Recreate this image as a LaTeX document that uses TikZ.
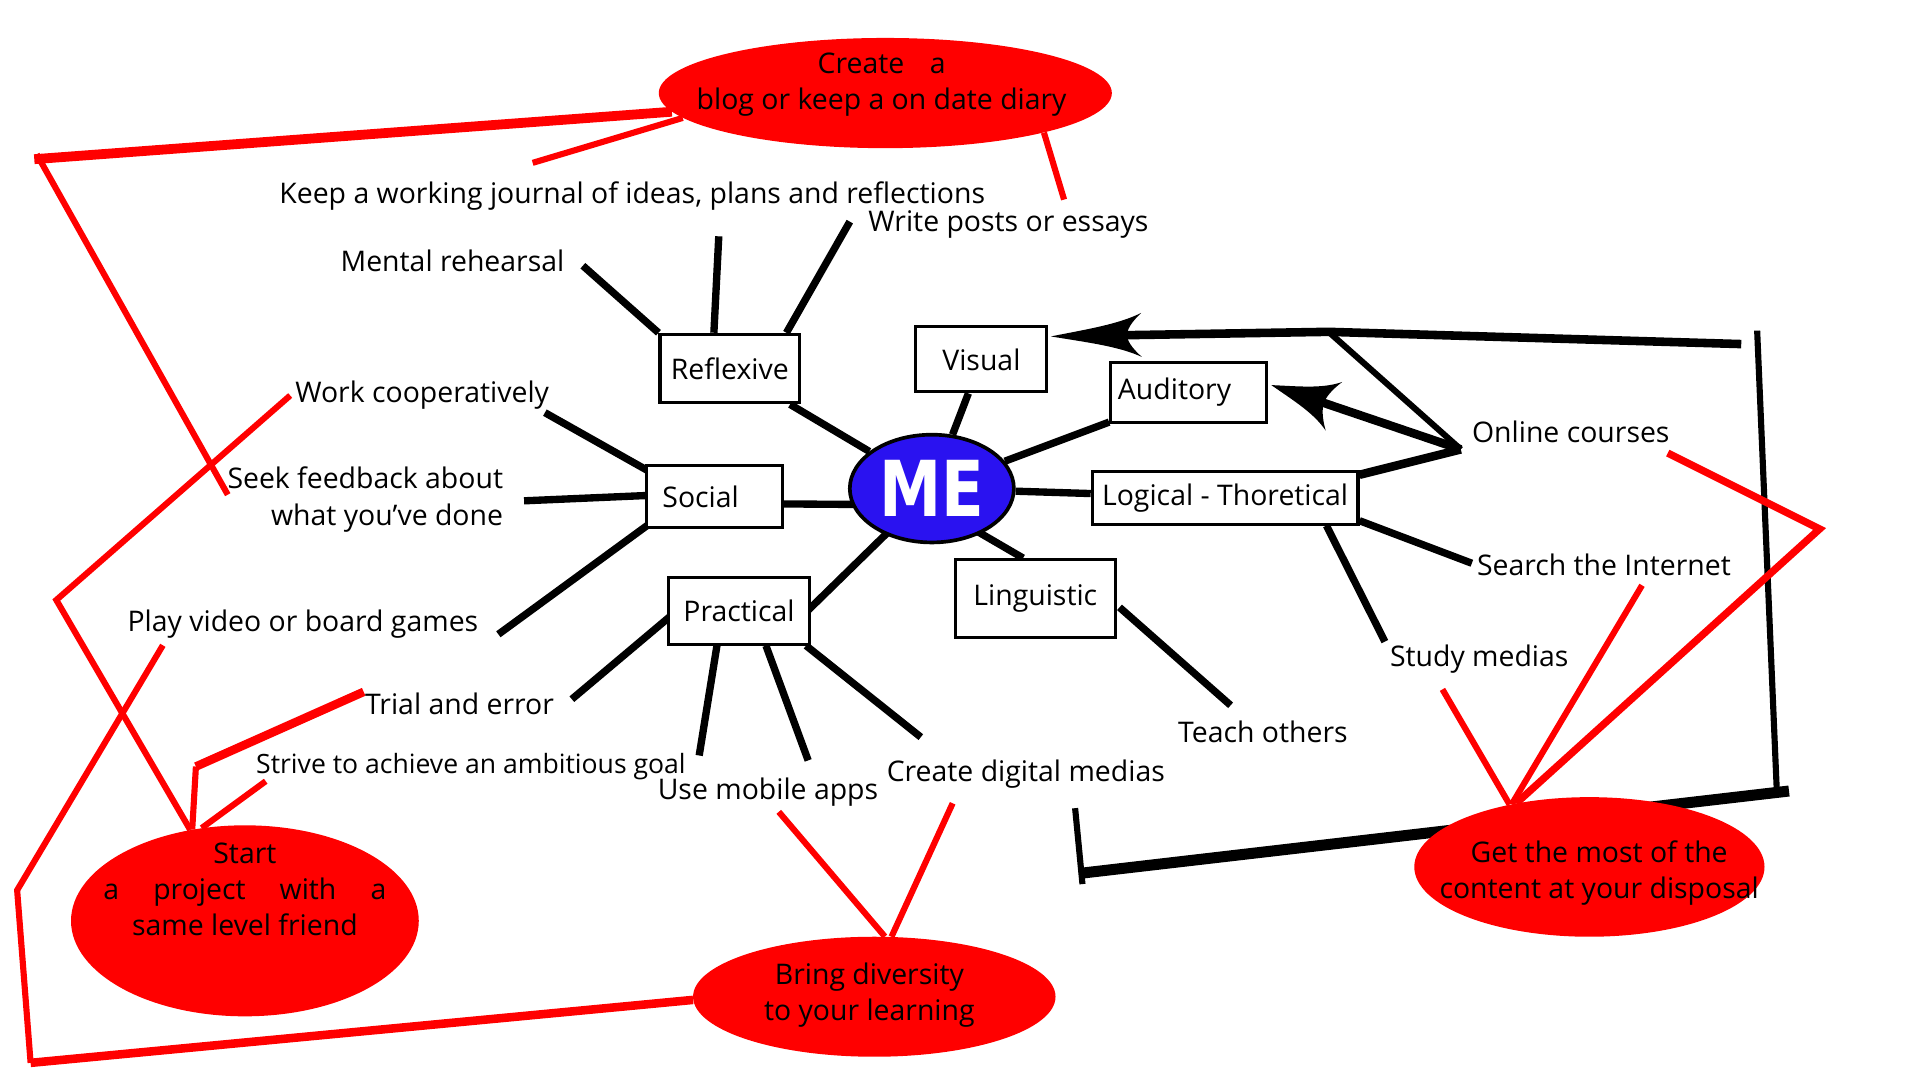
\documentclass[tikz,border=0pt]{standalone}
\usepackage{fontspec}
\usepackage{graphicx}
\setmainfont{Open Sans}
\newfontfamily\mefont{DejaVu Sans Condensed}
\usetikzlibrary{arrows.meta,calc,backgrounds,shapes.geometric}
\definecolor{meblue}{RGB}{42,18,240}
\definecolor{bred}{RGB}{255,0,0}
% curved barbed arrowhead: #1 tip, #2 coordinate the line comes from, #3 length, #4 half width
\newcommand\barbhead[4]{%
  \fill let \p1=($(#1)-(#2)$), \n1={atan2(\y1,\x1)} in
    [shift={(#1)}, rotate=\n1, xscale=#3, yscale=#4]
    (0,0) .. controls (-0.4,0.3) and (-0.75,0.5) .. (-1,1)
          .. controls (-0.88,0.55) and (-0.84,0.22) .. (-0.84,0)
          .. controls (-0.84,-0.22) and (-0.88,-0.55) .. (-1,-1)
          .. controls (-0.75,-0.5) and (-0.4,-0.3) .. (0,0) -- cycle;}
\begin{document}
\begin{tikzpicture}[x=1pt,y=-1pt,
  lab/.style={font=\fontsize{23.2}{29.5}\selectfont, inner sep=0pt, yshift=-3pt},
  box/.style={draw, line width=2.5pt, fill=white, inner sep=0pt, align=center, font=\fontsize{23.2}{25}\selectfont},
  con/.style={line width=6pt},
  redl/.style={draw=bred, line width=5pt},
  redb/.style={draw=bred, line width=8pt},
  bubble/.style={ellipse, fill=bred, inner sep=0pt}
]
\useasboundingbox (0,0) rectangle (1568,882);

% boxes
\node[box, minimum width=114, minimum height=56] (refl) at (596,301) {Reflexive};
\node[box, minimum width=107, minimum height=53] (vis) at (801.5,293.5) {Visual};
\node[box, minimum width=127, minimum height=49, text width=115, align=left, inner xsep=6] (aud) at (970.5,320.5) {\raisebox{4pt}{Auditory}};
\node[box, minimum width=111, minimum height=51, text width=85, align=left, inner xsep=13] (soc) at (583.5,405.5) {Social};
\node[box, minimum width=217, minimum height=43] (log) at (1000.5,406.5) {Logical - Thoretical};
\node[box, minimum width=115, minimum height=54] (prac) at (603.5,499) {Practical};
\node[box, minimum width=131, minimum height=64] (ling) at (845.5,489) {Linguistic};

% centre
\node[ellipse, draw, line width=3pt, fill=meblue, minimum width=134, minimum height=88, inner sep=0pt,
      text=white, font=\mefont\bfseries\fontsize{63}{63}\selectfont] (me) at (761,399) {\raisebox{-3pt}{\scalebox{0.9}[1]{ME}}};

% labels
\node[lab, anchor=west] (keep) at (228,157) {Keep a working journal of ideas, plans and reflections};
\node[lab, anchor=west] (write) at (709,180) {Write posts or essays};
\node[lab, anchor=west] (mental) at (278,210) {Mental rehearsal};
\node[lab, anchor=west] (work) at (241,320) {Work cooperatively};
\node[lab, anchor=east, align=right] (seek) at (411,405) {Seek feedback about\\what you’ve done};
\node[lab, anchor=west] (play) at (104,507) {Play video or board games};
\node[lab, anchor=west] (trial) at (298,572) {Trial and error};
\node[lab, anchor=west, font=\fontsize{21.7}{24}\selectfont] (strive) at (209,623) {Strive to achieve an ambitious goal};
\node[lab, anchor=west] (mobile) at (537,644) {Use mobile apps};
\node[lab, anchor=west] (digital) at (724,629) {Create digital medias};
\node[lab, anchor=west] (teach) at (962,595) {Teach others};
\node[lab, anchor=west] (study) at (1135,535) {Study medias};
\node[lab, anchor=west] (search) at (1206,458) {Search the Internet};
\node[lab, anchor=west] (online) at (1202,350) {Online courses};

% red bubbles
\node[bubble, minimum width=370, minimum height=90] (blog) at (723,76) {};
\node[lab, align=center] (blogt) at (720,66) {Create\hspace{0.9em}a\\blog or keep a on date diary};
\node[bubble, minimum width=284, minimum height=156] (start) at (200,752) {};
\node[lab, align=center] (startt) at (200,723.5) {Start\\a\hspace{1.2em}project\hspace{1.2em}with\hspace{1.2em}a\\same level friend};
\node[bubble, minimum width=296, minimum height=98] (div) at (714,814) {};
\node[lab, align=center] (divt) at (710,810) {Bring diversity\\to your learning};
\node[bubble, minimum width=286, minimum height=114] (most) at (1298,708) {};
\node[lab, align=center] (mostt) at (1306,710) {Get the most of the\\content at your disposal};

% free ends
\coordinate (cMen) at (476,217);
\coordinate (cKeep) at (587,193);
\coordinate (cWrite) at (694,181);
\coordinate (cWork) at (445,337);
\coordinate (cSeek) at (428,409);
\coordinate (cPlay) at (407,518);
\coordinate (cTrial) at (467,571);
\coordinate (cStrive) at (571,617);
\coordinate (cMob) at (660,621);
\coordinate (cDig) at (752,602);
\coordinate (cTeach) at (1005,576);
\coordinate (cStudy) at (1131,524);
\coordinate (cSearch) at (1202,460);
\coordinate (J) at (1193,367);
\coordinate (tk) at (1085,271);
\coordinate (tr) at (1422,281);
\coordinate (rb1) at (1435,270);
\coordinate (rb2) at (1451,645);
\coordinate (rb3) at (1461,646);
\coordinate (lb) at (884,713);
\coordinate (lt1) at (878,660);
\coordinate (lt2) at (884,722);
\coordinate (visTip) at ($(vis.north east)+(2,9)$);
\coordinate (audTip) at ($(aud.east)+(3,-6)$);

\coordinate (rA) at (28,130);
\coordinate (rA2) at (30,126);
\coordinate (rB) at (186,404);
\coordinate (rC) at (435,133);
\coordinate (rD) at (869,163);
\coordinate (rE) at (237,323);
\coordinate (rF) at (46,490);
\coordinate (rG) at (133,527);
\coordinate (rH) at (14,727);
\coordinate (rI) at (25,868);
\coordinate (rJ) at (297,565);
\coordinate (rK) at (160,626);
\coordinate (rL) at (217,638);
\coordinate (rM) at (636,663);
\coordinate (rN) at (778,656);
\coordinate (rO) at (1362,370);
\coordinate (rP) at (1486,432);
\coordinate (rQ) at (1341,478);
\coordinate (rR) at (1178,563);

\begin{scope}[on background layer]
  % black connectors
  \draw[con] (cMen) -- (refl.north west);
  \draw[con] (cKeep) -- ($(refl.north)+(-13,0)$);
  \draw[con] (cWrite) -- ($(refl.north east)+(-12,0)$);
  \draw[con] (refl) -- (me);
  \draw[con] (vis) -- (me);
  \draw[con] (aud) -- (me);
  \draw[con] (log) -- (me);
  \draw[con] ($(ling.north)+(-10,0)$) -- ($(me.center)+(20,25)$);
  \draw[con] ($(prac.east)+(-6,3)$) -- ($(me.center)+(-26,26)$);
  \draw[con] ($(soc.east)+(-6,6)$) -- ($(me.west)+(10,13)$);
  \draw[con] (cWork) -- ($(soc.north west)+(3,6)$);
  \draw[con] (cSeek) -- ($(soc.west)+(5,-1)$);
  \draw[con] (cPlay) -- ($(soc.south west)+(3,-4)$);
  \draw[con] (cTrial) -- ($(prac.west)+(3,4)$);
  \draw[con] (cStrive) -- ($(prac.south)+(-18,0)$);
  \draw[con] (cMob) -- ($(prac.south)+(22,0)$);
  \draw[con] (cDig) -- ($(prac.south east)+(-4,0)$);
  \draw[con] (cTeach) -- ($(ling.east)+(2,7)$);
  \draw[con] (cStudy) -- ($(log.south east)+(-27,0)$);
  \draw[con] (cSearch) -- ($(log.south east)+(0,-4)$);
  \draw[con, line width=7pt] (J) -- ($(log.north east)+(0,4)$);
  \draw[con, line width=5pt] (J) -- (tk);
  \draw[con, line width=7pt, shorten >=50pt] (tr) -- (tk) -- (visTip);
  \barbhead{visTip}{tk}{74}{18}
  \draw[con, line width=7pt, shorten >=36pt] (J) -- (audTip);
  \barbhead{audTip}{J}{54}{21}
  \draw[con, line width=5pt] (rb1) -- (rb2);
  \draw[con, line width=9pt] (rb3) -- (lb);
  \draw[con, line width=5pt] (lt1) -- (lt2);
  % red connectors
  \draw[redb] (blog.185) -- (rA);
  \draw[redl] (rA2) -- (rB);
  \draw[redl] (rC) -- (blog.187);
  \draw[redl] (blog.-14) -- (rD);
  \draw[redl] (rE) -- (rF) -- (start.121);
  \draw[redl] (rG) -- (rH) -- (rI);
  \draw[draw=bred, line width=7pt] (rI) -- (div.181);
  \draw[draw=bred, line width=7pt] (rJ) -- (rK);
  \draw[redl] (rK) -- (start.120);
  \draw[redl] (rL) -- (start.115);
  \draw[redl] (rM) -- (div.80);
  \draw[redl] (rN) -- (div.74);
  \draw[redl, line width=6pt] (rO) -- (rP) -- (most.139);
  \draw[redl] (rQ) -- (most.141);
  \draw[redl] (rR) -- (most.142);
\end{scope}
\end{tikzpicture}
\end{document}
